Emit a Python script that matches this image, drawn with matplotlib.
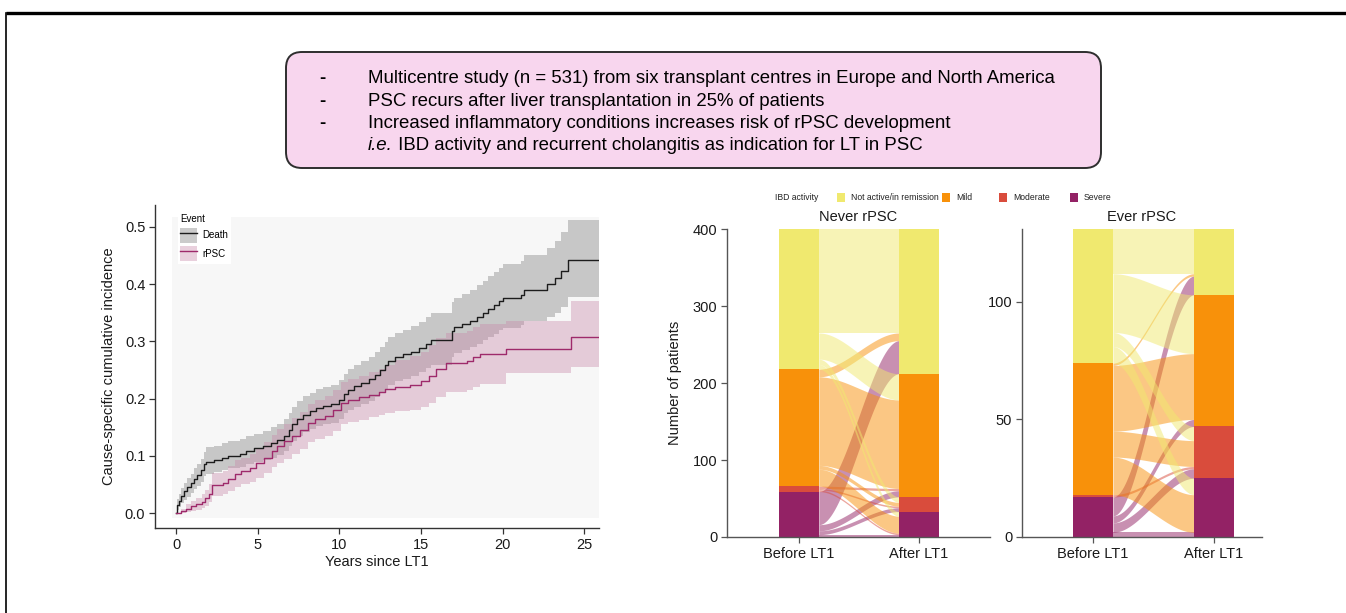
import numpy as np
import matplotlib
matplotlib.use("Agg")
import matplotlib.pyplot as plt
from matplotlib.patches import FancyBboxPatch, Rectangle, Patch
from matplotlib.lines import Line2D

plt.rcParams["font.family"] = ["Liberation Sans", "DejaVu Sans"]

W, H = 1346, 613

# ---- summary box ----
summary_lines = [
    "Multicentre study (n = 531) from six transplant centres in Europe and North America",
    "PSC recurs after liver transplantation in 25% of patients",
    "Increased inflammatory conditions increases risk of rPSC development",
]
summary_italic = "i.e."
summary_tail = " IBD activity and recurrent cholangitis as indication for LT in PSC"

# ---- cumulative incidence (years since LT1) ----
death_t = [0.0, 0.05, 0.15, 0.3, 0.5, 0.7, 0.9, 1.1, 1.3, 1.5, 1.7, 1.85, 2.3, 2.8, 3.2, 3.9,
           4.3, 4.8, 5.3, 5.8, 6.2, 6.6, 6.9, 7.1, 7.4, 7.8, 8.2, 8.6, 9.0, 9.5, 10.0, 10.3,
           10.5, 10.9, 11.3, 11.8, 12.2, 12.5, 12.8, 13.0, 13.4, 13.9, 14.4, 14.9, 15.3, 15.6,
           16.9, 17.0, 17.5, 18.0, 18.4, 18.8, 19.1, 19.5, 19.8, 20.0, 21.1, 21.3, 22.7, 23.2,
           23.6, 24.0, 25.9]
death_est = [0.000, 0.015, 0.022, 0.030, 0.038, 0.045, 0.052, 0.060, 0.066, 0.075, 0.085, 0.090,
             0.093, 0.097, 0.100, 0.103, 0.108, 0.113, 0.117, 0.122, 0.127, 0.135, 0.145, 0.155,
             0.165, 0.172, 0.178, 0.184, 0.187, 0.190, 0.198, 0.208, 0.215, 0.222, 0.228, 0.234,
             0.242, 0.250, 0.258, 0.266, 0.273, 0.277, 0.282, 0.288, 0.296, 0.302, 0.318, 0.325,
             0.330, 0.336, 0.343, 0.350, 0.357, 0.363, 0.370, 0.376, 0.381, 0.390, 0.400, 0.410,
             0.423, 0.442, 0.442]
death_lo = [0.000, 0.006, 0.011, 0.017, 0.023, 0.029, 0.035, 0.042, 0.047, 0.055, 0.064, 0.068,
            0.071, 0.075, 0.078, 0.081, 0.085, 0.089, 0.093, 0.097, 0.101, 0.108, 0.117, 0.126,
            0.135, 0.141, 0.147, 0.152, 0.155, 0.158, 0.165, 0.174, 0.180, 0.186, 0.191, 0.196,
            0.203, 0.210, 0.217, 0.224, 0.230, 0.235, 0.240, 0.246, 0.253, 0.259, 0.273, 0.280,
            0.285, 0.290, 0.296, 0.302, 0.308, 0.313, 0.319, 0.324, 0.329, 0.336, 0.343, 0.350,
            0.360, 0.378, 0.378]
death_hi = [0.000, 0.025, 0.033, 0.043, 0.052, 0.061, 0.069, 0.078, 0.085, 0.095, 0.106, 0.115,
            0.118, 0.122, 0.126, 0.129, 0.134, 0.139, 0.144, 0.150, 0.156, 0.164, 0.175, 0.186,
            0.196, 0.204, 0.210, 0.217, 0.221, 0.224, 0.233, 0.243, 0.251, 0.259, 0.265, 0.272,
            0.281, 0.290, 0.299, 0.308, 0.315, 0.320, 0.326, 0.333, 0.342, 0.349, 0.368, 0.376,
            0.383, 0.390, 0.398, 0.406, 0.414, 0.421, 0.428, 0.435, 0.441, 0.451, 0.463, 0.475,
            0.490, 0.512, 0.512]

rpsc_t = [0.0, 0.3, 0.6, 0.9, 1.2, 1.6, 1.8, 2.0, 2.2, 2.9, 3.2, 3.6, 4.0, 4.5, 4.9, 5.4, 5.9,
          6.2, 6.6, 7.1, 7.6, 8.1, 8.5, 9.1, 9.6, 10.1, 10.5, 11.2, 11.8, 12.4, 12.8, 13.4, 14.3,
          15.0, 15.5, 15.9, 16.5, 17.8, 18.2, 18.6, 20.2, 24.2, 25.9]
rpsc_est = [0.000, 0.003, 0.008, 0.012, 0.016, 0.020, 0.026, 0.034, 0.049, 0.052, 0.060, 0.068,
            0.073, 0.078, 0.088, 0.097, 0.108, 0.118, 0.126, 0.135, 0.145, 0.158, 0.164, 0.170,
            0.180, 0.193, 0.198, 0.202, 0.207, 0.212, 0.217, 0.221, 0.224, 0.230, 0.240, 0.252,
            0.262, 0.266, 0.273, 0.277, 0.286, 0.307, 0.307]
rpsc_lo = [0.000, 0.000, 0.002, 0.004, 0.006, 0.009, 0.013, 0.019, 0.030, 0.033, 0.039, 0.046,
           0.050, 0.054, 0.062, 0.070, 0.080, 0.088, 0.095, 0.103, 0.112, 0.124, 0.129, 0.134,
           0.143, 0.155, 0.159, 0.163, 0.167, 0.171, 0.175, 0.178, 0.180, 0.185, 0.193, 0.203,
           0.212, 0.215, 0.221, 0.226, 0.244, 0.255, 0.255]
rpsc_hi = [0.000, 0.008, 0.016, 0.022, 0.027, 0.033, 0.040, 0.050, 0.070, 0.074, 0.083, 0.092,
           0.097, 0.103, 0.114, 0.124, 0.136, 0.147, 0.156, 0.166, 0.177, 0.191, 0.198, 0.204,
           0.215, 0.229, 0.235, 0.240, 0.246, 0.252, 0.258, 0.268, 0.274, 0.282, 0.294, 0.305,
           0.314, 0.318, 0.325, 0.330, 0.336, 0.370, 0.370]

# ---- IBD activity before/after LT1 (rows: before, cols: after) ----
ibd_levels = ["Severe", "Moderate", "Mild", "Not active/in remission"]   # bottom -> top
ibd_colors = ["#932265", "#d94c3c", "#f8910a", "#f0e96f"]
legend_order = [3, 2, 1, 0]
never_flows = [[3, 5, 8, 43],
               [2, 2, 3, 0],
               [22, 5, 115, 10],
               [6, 7, 34, 135]]
ever_flows = [[2, 4, 3, 8],
              [0, 1, 0, 0],
              [16, 11, 28, 1],
              [7, 6, 25, 19]]


def px_box(x0, y0, x1, y1):
    return [x0 / W, 1 - y1 / H, (x1 - x0) / W, (y1 - y0) / H]


fig = plt.figure(figsize=(W / 100, H / 100), dpi=100)

# overlay in pixel coordinates for frame, summary box and legend
ov = fig.add_axes([0, 0, 1, 1], zorder=-1)
ov.set_xlim(0, W)
ov.set_ylim(H, 0)
ov.axis("off")
ov.plot([6, W], [13, 13], color="black", lw=2.4, solid_capstyle="butt")
ov.plot([6, 6], [13, H], color="black", lw=1.2)

ov.add_patch(FancyBboxPatch((286, 52), 815, 116, boxstyle="round,pad=0,rounding_size=16",
                            fc="#f8d6ee", ec="#2e2e2e", lw=1.4))
baselines = [83, 105.5, 128, 150.5]
for y, line in zip(baselines[:3], summary_lines):
    ov.text(322, y, "-", ha="center", va="baseline", fontsize=13.4, fontweight="bold")
    ov.text(368, y, line, ha="left", va="baseline", fontsize=13.4)
it = ov.text(368, baselines[3], summary_italic, ha="left", va="baseline", fontsize=13.4,
             style="italic")
renderer = fig.canvas.get_renderer()
bb = it.get_window_extent(renderer=renderer)
ov.text(368 + bb.width, baselines[3], summary_tail, ha="left", va="baseline", fontsize=13.4)

# ---- cumulative incidence panel ----
ax = fig.add_axes(px_box(155, 205, 599, 528))
ax.set_xlim(-1.29, 25.9)
ax.set_ylim(-0.026, 0.538)
ax.add_patch(Rectangle((-0.25, -0.009), 26.15, 0.526, fc="#f7f7f7", ec="none", zorder=0))

grey_band = "#999999"
pink_band = "#c98aab"
death_col = "#1c1c1c"
rpsc_col = "#9e2a6b"

ax.fill_between(death_t, death_lo, death_hi, step="post", color=grey_band, alpha=0.5, lw=0, zorder=1)
ax.fill_between(rpsc_t, rpsc_lo, rpsc_hi, step="post", color=pink_band, alpha=0.4, lw=0, zorder=1)
ax.step(death_t, death_est, where="post", color=death_col, lw=1.0, zorder=3)
ax.step(rpsc_t, rpsc_est, where="post", color=rpsc_col, lw=1.0, zorder=3)

ax.set_xticks([0, 5, 10, 15, 20, 25])
ax.set_yticks([0.0, 0.1, 0.2, 0.3, 0.4, 0.5])
ax.set_yticklabels(["0.0", "0.1", "0.2", "0.3", "0.4", "0.5"])
for s in ["top", "right"]:
    ax.spines[s].set_visible(False)
for s in ["left", "bottom"]:
    ax.spines[s].set_color("#333333")
    ax.spines[s].set_linewidth(1.0)
ax.tick_params(colors="#333333", labelcolor="#1a1a1a", labelsize=10.5, length=4, width=0.9, pad=3)
ax.set_xlabel("Years since LT1", fontsize=10.5, color="#1a1a1a", labelpad=2)
ax.set_ylabel("Cause-specific cumulative incidence", fontsize=10.5, color="#1a1a1a", labelpad=6)

handles = [(Patch(fc=grey_band, alpha=0.5, ec="none"), Line2D([], [], color=death_col, lw=1.0)),
           (Patch(fc=pink_band, alpha=0.4, ec="none"), Line2D([], [], color=rpsc_col, lw=1.0))]
leg = ax.legend(handles, ["Death", "rPSC"], title="Event", loc="upper left",
                bbox_to_anchor=(173 / W, 1 - 207 / H), bbox_transform=fig.transFigure,
                fontsize=7, title_fontsize=7, frameon=True, facecolor="white", edgecolor="none",
                framealpha=1, fancybox=False, handlelength=1.7, handleheight=2.0,
                labelspacing=0.35, borderpad=0.25, handletextpad=0.6, alignment="left")


def alluvial(ax, flows, width=0.33):
    flows = np.asarray(flows, dtype=float)
    before = flows.sum(axis=1)
    after = flows.sum(axis=0)
    b_bot = np.concatenate([[0], np.cumsum(before)[:-1]])
    a_bot = np.concatenate([[0], np.cumsum(after)[:-1]])
    n = len(before)
    b_start = np.zeros_like(flows)
    a_start = np.zeros_like(flows)
    for i in range(n):
        cur = b_bot[i]
        for j in range(n):
            b_start[i, j] = cur
            cur += flows[i, j]
    for j in range(n):
        cur = a_bot[j]
        for i in range(n):
            a_start[i, j] = cur
            cur += flows[i, j]
    x0, x1 = 1 + width / 2, 2 - width / 2
    s = np.linspace(0, 1, 80)
    ease = 3 * s ** 2 - 2 * s ** 3
    xs = x0 + (x1 - x0) * s
    for i in range(n):
        for j in range(n):
            if flows[i, j] <= 0:
                continue
            lower = b_start[i, j] + (a_start[i, j] - b_start[i, j]) * ease
            ax.fill_between(xs, lower, lower + flows[i, j], color=ibd_colors[i], alpha=0.5,
                            lw=0, zorder=1)
    ax.bar([1] * n, before, bottom=b_bot, width=width, color=ibd_colors, zorder=2)
    ax.bar([2] * n, after, bottom=a_bot, width=width, color=ibd_colors, zorder=2)
    ax.set_ylim(0, before.sum())
    ax.set_xticks([1, 2])
    ax.set_xticklabels(["Before LT1", "After LT1"])
    for sp in ["top", "right"]:
        ax.spines[sp].set_visible(False)
    for sp in ["left", "bottom"]:
        ax.spines[sp].set_color("#555555")
        ax.spines[sp].set_linewidth(1.0)
    ax.tick_params(colors="#555555", labelcolor="#1a1a1a", labelsize=10.5, length=4,
                   width=0.9, pad=3)


ax_never = fig.add_axes(px_box(727, 229, 990, 537))
ax_never.set_xlim(0.4, 2.592)
alluvial(ax_never, never_flows)
ax_never.set_yticks([0, 100, 200, 300, 400])
ax_never.set_ylabel("Number of patients", fontsize=10.5, color="#1a1a1a", labelpad=8)
ax_never.set_title("Never rPSC", fontsize=10.5, color="#1a1a1a", pad=6)

ax_ever = fig.add_axes(px_box(1022, 229, 1262, 537))
ax_ever.set_xlim(0.413, 2.397)
alluvial(ax_ever, ever_flows)
ax_ever.set_yticks([0, 50, 100])
ax_ever.set_title("Ever rPSC", fontsize=10.5, color="#1a1a1a", pad=6)

# shared IBD activity key above the alluvial panels
ov.text(775, 197, "IBD activity", fontsize=6.2, va="center", ha="left", color="#222222")
key_x = [837, 942, 999, 1070]
for k, idx in enumerate(legend_order):
    ov.add_patch(Rectangle((key_x[k], 193), 7.5, 9, fc=ibd_colors[idx], ec="none"))
    ov.text(key_x[k] + 14, 197, ibd_levels[idx], fontsize=6.2, va="center", ha="left",
            color="#222222")

fig.savefig("out.png", dpi=100)
